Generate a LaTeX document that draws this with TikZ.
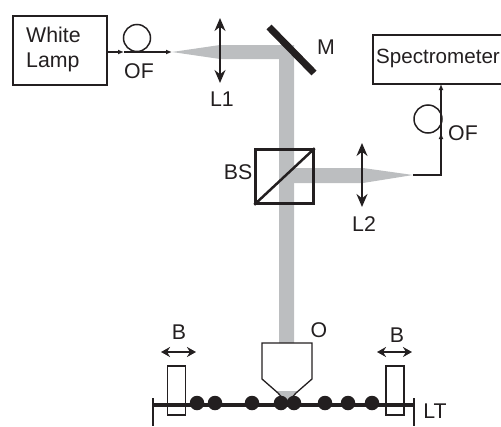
\documentclass[tikz,border=0pt]{standalone}
\usepackage{fontspec}
\setmainfont{Liberation Sans}
\usetikzlibrary{arrows.meta}
\definecolor{beam}{RGB}{188,190,192}
\definecolor{ink}{RGB}{35,31,32}
\tikzset{
  x=1pt,y=-1pt,
  every node/.style={font=\fontsize{21.3}{25}\selectfont,text=ink,inner sep=0pt},
  box/.style={draw=ink,line width=1.5pt,align=left,anchor=north west},
  fiber/.style={draw=ink,line width=1.5pt},
  small/.style={fiber,-{Latex[length=6pt,width=5pt]}},
  lens/.style={draw=ink,line width=1.5pt,{Stealth[length=13pt,width=11pt]}-{Stealth[length=13pt,width=11pt]}},
  shiftarrow/.style={draw=ink,line width=1.5pt,{Stealth[length=9pt,width=10pt]}-{Stealth[length=9pt,width=10pt]}},
  thin box/.style={draw=ink,line width=1.3pt},
  dot/.style={circle,fill=ink,minimum size=14.5pt},
}
\begin{document}
\begin{tikzpicture}
\useasboundingbox (0,0) rectangle (501,426);
% beams
\fill[beam] (172,52) -- (220,45) -- (294,45) -- (294,343) -- (279,343) -- (279,59) -- (220,59) -- cycle;
\fill[beam] (294,168) -- (363,168) -- (413,175) -- (363,183) -- (294,183) -- cycle;
% lamp
\node[box,minimum width=94pt,minimum height=69pt] (lamp) at (12,15) {};
\node[align=left,anchor=west] (lamptext) at (26,49) {White\\Lamp};
\coordinate (fa) at (172,52);
\coordinate (fm) at (124,52);
\draw[small] (lamp.east |- fa) -- (fm);
\draw[small] (fm) -- (fa);
\node[circle,draw=ink,line width=1.5pt,minimum size=27pt] (loop1) at (137,38) {};
\node (of1) at (139,71) {OF};
% L1
\coordinate (l1a) at (220,18); \coordinate (l1b) at (220,83);
\draw[lens] (l1a) -- (l1b);
\node (l1) at (222,99) {L1};
% mirror
\coordinate (ma) at (269,27); \coordinate (mb) at (314,73);
\draw[ink,line width=7pt] (ma) -- (mb);
\node (m) at (326,47) {M};
% spectrometer
\path[draw=ink,line width=1.5pt] (510,35) -- (373,35) -- (373,84) -- (510,84);
\node[anchor=west,font=\fontsize{20.6}{24}\selectfont] (spec) at (376,58) {Spectrometer};
\coordinate (sb) at (441,84);
\coordinate (sc) at (441,175);
\coordinate (st) at (413,175);
\coordinate (sm) at (441,133);
\draw[fiber] (st) -- (sc) -- (sm);
\draw[small] (sc) -- (sm);
\draw[small] (sm) -- (sb);
\node[circle,draw=ink,line width=1.5pt,minimum size=28pt] (loop2) at (428,119) {};
\node (of2) at (463,133) {OF};
% BS
\node[draw=ink,line width=2.5pt,minimum width=58pt,minimum height=54pt] (bs) at (284.5,176.5) {};
\draw[ink,line width=2.5pt] (bs.south west) -- (bs.north east);
\node (bst) at (238,172) {BS};
% L2
\coordinate (l2a) at (362,143); \coordinate (l2b) at (362,207);
\draw[lens] (l2a) -- (l2b);
\node (l2) at (364,224) {L2};
% objective
\coordinate (oa) at (262,343); \coordinate (ob) at (312,343);
\coordinate (oc) at (312,379); \coordinate (od) at (262,379);
\coordinate (oe) at (287,403);
\fill[beam] (277,391) -- (297,391) -- (287,402) -- cycle;
\draw[ink,line width=1.3pt] (oa) -- (ob) -- (oc) -- (296,393) -- (oe) -- (278,393) -- (od) -- cycle;
\node (o) at (319,330) {O};
% track
\coordinate (ta) at (153,405); \coordinate (tb) at (414,405);
\draw[ink,line width=3.5pt] (ta) -- (tb);
\coordinate (tla) at (153,398); \coordinate (tlb) at (153,426);
\coordinate (tra) at (414,398); \coordinate (trb) at (414,426);
\draw[ink,line width=1.5pt] (tla) -- (tlb);
\draw[ink,line width=1.5pt] (tra) -- (trb);
\node (lt) at (435,411.5) {LT};
% beads
\foreach \i/\xx in {1/197,2/215,3/252,4/281,5/294,6/325,7/348,8/372}
  \node[dot] (bead\i) at (\xx,403) {};
% blocks
\node[thin box,minimum width=18pt,minimum height=49pt] (bl) at (176.5,390.5) {};
\node[thin box,minimum width=18pt,minimum height=49pt] (br) at (395,390.5) {};
\coordinate (bla) at (161,352); \coordinate (blb) at (196,352);
\coordinate (bra) at (377,352); \coordinate (brb) at (412,352);
\draw[shiftarrow] (bla) -- (blb);
\draw[shiftarrow] (bra) -- (brb);
\node (b1) at (179,332) {B};
\node (b2) at (397,335) {B};
\end{tikzpicture}
\end{document}
